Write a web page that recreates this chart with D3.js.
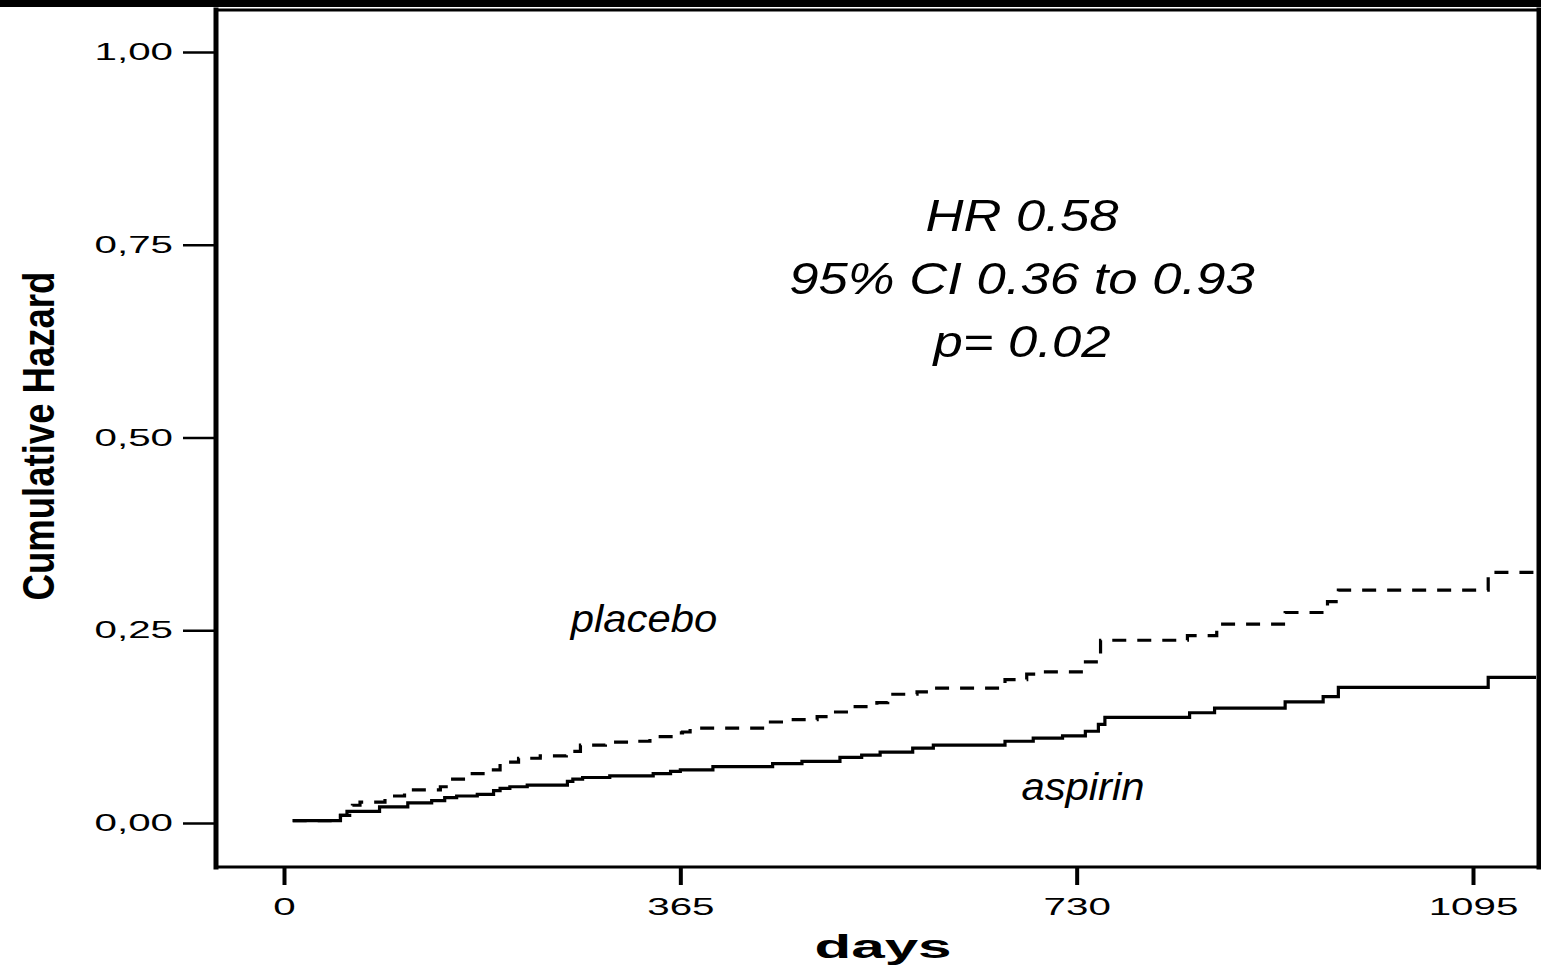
<!DOCTYPE html>
<html>
<head>
<meta charset="utf-8">
<script src="https://cdn.jsdelivr.net/npm/d3@7"></script>
<style>
  body { margin: 0; background: #fff; }
  text { font-family: "Liberation Sans", Arial, sans-serif; fill: #000; }
</style>
</head>
<body>
<div id="container"></div>
<script>
// step points (day of event, cumulative hazard after it)
const aspirinDays = [8, 52, 58, 88, 114, 136, 148, 159, 178, 193, 199, 208, 224, 261, 266, 275, 300, 340, 356, 365,
  395, 450, 477, 512, 532, 549, 579, 598, 664, 690, 717, 738, 750, 756, 834, 857, 922, 957, 971, 1109];
const aspirinHazard = [0.003, 0.010, 0.015, 0.021, 0.026, 0.029, 0.033, 0.035, 0.037, 0.042, 0.045, 0.047, 0.049, 0.054,
  0.057, 0.059, 0.061, 0.064, 0.067, 0.069, 0.073, 0.077, 0.080, 0.085, 0.088, 0.092, 0.097, 0.101, 0.106, 0.110,
  0.113, 0.119, 0.128, 0.137, 0.143, 0.149, 0.157, 0.164, 0.176, 0.189];

const placeboDays = [8, 52, 63, 70, 93, 111, 144, 151, 167, 190, 199, 216, 236, 260, 273, 296, 319, 337, 360, 367,
  374, 448, 469, 491, 506, 523, 546, 556, 583, 595, 664, 684, 699, 736, 752, 832, 859, 922, 961, 971, 1109];
const placeboHazard = [0.003, 0.010, 0.023, 0.027, 0.035, 0.043, 0.047, 0.057, 0.064, 0.069, 0.079, 0.084, 0.087,
  0.093, 0.101, 0.105, 0.106, 0.112, 0.117, 0.118, 0.123, 0.131, 0.134, 0.138, 0.144, 0.151, 0.156, 0.167, 0.170,
  0.175, 0.186, 0.193, 0.196, 0.209, 0.237, 0.243, 0.258, 0.273, 0.287, 0.302, 0.325];

// axis ticks
const xTicks = [0, 365, 730, 1095];
const yTicks = [0, 0.25, 0.5, 0.75, 1];

// text in the plot
const statLines = ["HR 0.58", "95% CI 0.36 to 0.93", "p= 0.02"];
const groupLabels = ["placebo", "aspirin"];

const width = 1541;
const height = 970;

// frame of the plot area
const frameLeft = 216;
const frameRight = 1538;
const frameTop = 10;
const frameBottom = 867;

// widen text horizontally like the (stretched) original
function stretch(sel, k) {
  sel.each(function () {
    var w = this.getComputedTextLength();
    d3.select(this).attr("textLength", w * k).attr("lengthAdjust", "spacingAndGlyphs");
  });
}

function draw() {
  const svg = d3
    .select("#container")
    .append("svg")
    .attr("width", width)
    .attr("height", height)
    .style("display", "block")
    .style("background-color", "#fff");

  const x = d3.scaleLinear().domain([0, 1095]).range([284, 1473]);
  const y = d3.scaleLinear().domain([0, 1]).range([823, 52]);

  // black band at the very top
  svg.append("rect").attr("x", 0).attr("y", 0).attr("width", width).attr("height", 7).attr("fill", "#000");

  // frame
  const frame = svg.append("g").attr("stroke", "#000").attr("stroke-linecap", "square");
  frame.append("line").attr("x1", frameLeft).attr("x2", frameLeft).attr("y1", frameTop).attr("y2", frameBottom)
    .attr("stroke-width", 5);
  frame.append("line").attr("x1", frameLeft).attr("x2", width).attr("y1", frameTop).attr("y2", frameTop)
    .attr("stroke-width", 3);
  frame.append("line").attr("x1", frameLeft).attr("x2", width).attr("y1", frameBottom).attr("y2", frameBottom)
    .attr("stroke-width", 3);
  frame.append("line").attr("x1", frameRight + 1).attr("x2", frameRight + 1).attr("y1", frameTop).attr("y2", frameBottom)
    .attr("stroke-width", 5);

  // y axis
  const yAxis = d3
    .axisLeft(y)
    .tickValues(yTicks)
    .tickSize(31)
    .tickPadding(10)
    .tickFormat((d) => d3.format(".2f")(d).replace(".", ","));
  const gy = svg.append("g").attr("transform", "translate(" + (frameLeft - 2) + ",0)").call(yAxis);
  gy.select(".domain").remove();
  gy.selectAll(".tick line").attr("stroke", "#000").attr("stroke-width", 2.5);
  gy.selectAll(".tick text").attr("font-size", 24).attr("font-family", "Liberation Sans");
  stretch(gy.selectAll(".tick text"), 1.68);

  // x axis
  const xAxis = d3.axisBottom(x).tickValues(xTicks).tickSize(17).tickPadding(13).tickFormat(d3.format("d"));
  const gx = svg.append("g").attr("transform", "translate(0," + (frameBottom + 1) + ")").call(xAxis);
  gx.select(".domain").remove();
  gx.selectAll(".tick line").attr("stroke", "#000").attr("stroke-width", 4);
  gx.selectAll(".tick text").attr("font-size", 24).attr("font-family", "Liberation Sans");
  stretch(gx.selectAll(".tick text"), 1.68);

  // axis titles
  const xTitle = svg
    .append("text")
    .attr("x", 883)
    .attr("y", 958)
    .attr("text-anchor", "middle")
    .attr("font-size", 34)
    .attr("font-weight", "bold")
    .text("days");
  stretch(xTitle, 1.77);

  const yTitle = svg
    .append("text")
    .attr("transform", "translate(54,436) rotate(-90)")
    .attr("text-anchor", "middle")
    .attr("font-size", 44)
    .attr("font-weight", "bold")
    .text("Cumulative Hazard");
  stretch(yTitle, 0.83);

  // step curves, held flat to the right edge of the frame
  const xEnd = x.invert(frameRight - 2);
  function steps(days, hazard) {
    var pts = days.map((d, i) => [d, hazard[i]]);
    pts.push([xEnd, hazard[hazard.length - 1]]);
    return pts;
  }
  const line = d3
    .line()
    .curve(d3.curveStepAfter)
    .x((d) => x(d[0]))
    .y((d) => y(d[1]));

  svg
    .append("path")
    .datum(steps(placeboDays, placeboHazard))
    .attr("fill", "none")
    .attr("stroke", "#000")
    .attr("stroke-width", 3.2)
    .attr("stroke-dasharray", "14,11")
    .attr("d", line);

  svg
    .append("path")
    .datum(steps(aspirinDays, aspirinHazard))
    .attr("fill", "none")
    .attr("stroke", "#000")
    .attr("stroke-width", 3.2)
    .attr("d", line);

  // hazard ratio text
  const stat = svg
    .selectAll(".stat")
    .data(statLines)
    .enter()
    .append("text")
    .attr("class", "stat")
    .attr("x", 1022)
    .attr("y", (d, i) => 231 + i * 63)
    .attr("text-anchor", "middle")
    .attr("font-size", 45)
    .attr("font-style", "italic")
    .text((d) => d);
  stretch(stat, 1.17);

  // group labels
  const labelX = [644, 1083];
  const labelY = [632, 800];
  const lab = svg
    .selectAll(".group")
    .data(groupLabels)
    .enter()
    .append("text")
    .attr("class", "group")
    .attr("x", (d, i) => labelX[i])
    .attr("y", (d, i) => labelY[i])
    .attr("text-anchor", "middle")
    .attr("font-size", 38)
    .attr("font-style", "italic")
    .text((d) => d);
  stretch(lab, 1.1);
}

draw();
</script>
</body>
</html>
